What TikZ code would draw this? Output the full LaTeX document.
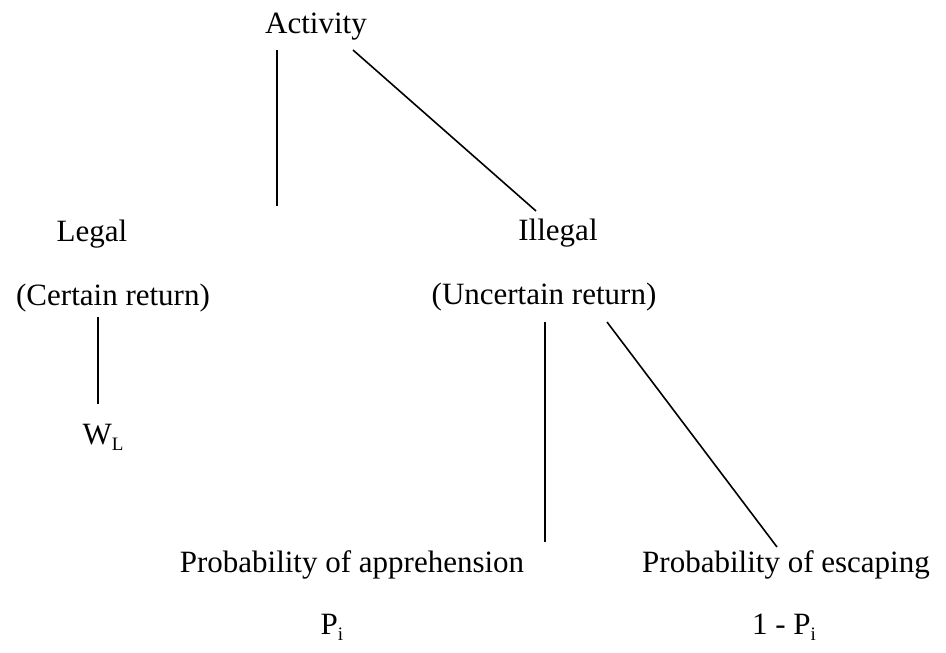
\documentclass[tikz,border=0pt]{standalone}
\usepackage{fontspec}
\setmainfont{Liberation Serif}
\newcommand{\mysub}[1]{\raisebox{-0.22em}{\fontsize{19}{19}\selectfont #1}}
\begin{document}
\begin{tikzpicture}[x=1pt,y=-1pt,
  lbl/.style={anchor=base,inner sep=0pt,font=\fontsize{31}{36}\selectfont},
  link/.style={draw=black,line width=1.6pt}]
\useasboundingbox (0,0) rectangle (946,653);
\node[lbl] (act) at (316,33) {Activity};
\node[lbl] (legal) at (92,241) {Legal};
\node[lbl] (illegal) at (558,240) {Illegal};
\node[lbl] (cert) at (113,305) {(Certain return)};
\node[lbl] (uncert) at (544,304) {(Uncertain return)};
\node[lbl] (wl) at (103,444) {W\mysub{L}};
\node[lbl] (appr) at (352,572) {Probability of apprehension};
\node[lbl] (esc) at (786,572) {Probability of escaping};
\node[lbl] (pi) at (332,634) {P\mysub{i}};
\node[lbl] (onepi) at (784,634) {1 - P\mysub{i}};
\coordinate (a1) at (277,50);
\coordinate (a1e) at (277,206);
\coordinate (a2) at (353,50);
\coordinate (a2e) at (536,211);
\coordinate (c1) at (98,317);
\coordinate (c1e) at (98,404);
\coordinate (u1) at (545,322);
\coordinate (u1e) at (545,542);
\coordinate (u2) at (607,322);
\coordinate (u2e) at (777,547);
\draw[link] (a1) -- (a1e);
\draw[link] (a2) -- (a2e);
\draw[link] (c1) -- (c1e);
\draw[link] (u1) -- (u1e);
\draw[link] (u2) -- (u2e);
\end{tikzpicture}
\end{document}
